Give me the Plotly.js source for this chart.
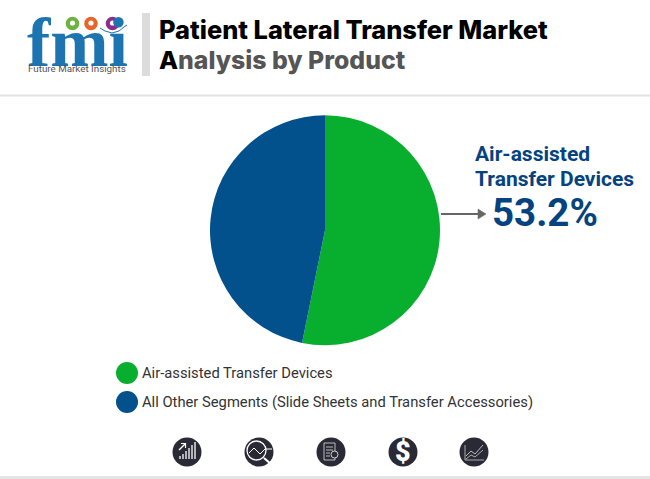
<!DOCTYPE html>
<html><head><meta charset="utf-8">
<script src="https://cdn.plot.ly/plotly-3.0.1.min.js"></script>
<style>html,body{margin:0;padding:0;background:#fff}#c{width:650px;height:479px}</style></head>
<body><div id="c"></div>
<script>
const categories = ["Air-assisted Transfer Devices", "All Other Segments (Slide Sheets and Transfer Accessories)"];
const values = [53.2, 46.8];
const colors = ["#08AE2D", "#02508C"];
const calloutLines = ["Air-assisted", "Transfer Devices"];
const calloutValue = "53.2%";
const titleLine1 = "Patient Lateral Transfer Market";
const titleLine2A = "A", titleLine2B = "nalysis by Product";
const logoText = "Future Market Insights";

const W = 650, H = 479;
const X = x => x / W, Y = y => 1 - y / H;
const DARK = "#2A2A36", NAVY = "#04437F", LOGO = "#1C75B0";

function rect(x0, y0, x1, y1, c) {
  return {type:"rect", xref:"paper", yref:"paper", x0:X(x0), x1:X(x1), y0:Y(y0), y1:Y(y1),
          fillcolor:c, line:{width:0}, layer:"above"};
}
function circ(cx, cy, r, c) {
  return {type:"circle", xref:"paper", yref:"paper", x0:X(cx-r), x1:X(cx+r), y0:Y(cy+r), y1:Y(cy-r),
          fillcolor:c, line:{width:0}, layer:"above"};
}
function seg(x0, y0, x1, y1, c, w) {
  return {type:"line", xref:"paper", yref:"paper", x0:X(x0), x1:X(x1), y0:Y(y0), y1:Y(y1),
          line:{color:c, width:w}, layer:"above"};
}
function path(d, c, w, fill) {
  return {type:"path", xref:"paper", yref:"paper", path:d, line:{color:c, width:w}, fillcolor:fill || "rgba(0,0,0,0)", layer:"above"};
}
function pp(points) {
  return points.map((p, i) => (i ? "L" : "M") + X(p[0]) + "," + Y(p[1])).join(" ");
}
function text(x, y, t, size, color, weight, family, anchor) {
  return {xref:"paper", yref:"paper", x:X(x), y:Y(y), text:t, showarrow:false,
          xanchor:anchor || "left", yanchor:"middle", align:"left",
          font:{size:size, color:color, weight:weight || 400, family:family || "Roboto"}, borderpad:0};
}

const shapes = [
  rect(0, 94.5, W, 96.5, "#E2E2E2"),
  rect(0, 476, W, 479, "#E4E4E4"),
  rect(142, 13, 150, 76, "#DCDCDC"),
  ...[26, 31, 36, 41, 46, 51, 56].map(y => rect(24, y, 130, y + 1.3, "#FFFFFF")),
  circ(72.5, 23.5, 6.8, "#6DB33F"),
  circ(91, 23.5, 6.8, "#E8642A"),
  circ(112.5, 23.5, 6.8, "#8E2C8E"),
  circ(72.5, 23, 2.6, "#FFFFFF"),
  circ(91, 23, 2.6, "#FFFFFF"),
  circ(112.5, 23, 2.6, "#FFFFFF"),
  path(pp([[100,28],[105,31],[112,33],[119,31],[124,27],[127,25]]), LOGO, 1),
  seg(441, 214, 481, 214, "#666666", 2),
  path(pp([[478,209],[486,214],[478,219]]) + " Z", "#666666", 0.5, "#666666"),
  circ(127, 373, 11, colors[0]),
  circ(127, 402, 11, colors[1]),
  circ(187, 452, 14.5, DARK), circ(259, 452, 14.5, DARK), circ(331, 452, 14.5, DARK),
  circ(403, 452, 14.5, DARK), circ(474, 452, 14.5, DARK),
  ...[[180,459,456],[183,459,454],[186,459,451],[189,459,448],[192,459,445],[195,459,442]].map(b => seg(b[0], b[1], b[0], b[2], "#FFFFFF", 1.3)),
  path(pp([[179,450],[185,444]]), "#FFFFFF", 1.5),
  path(pp([[181,443.5],[185.5,443.5],[185.5,448]]), "#FFFFFF", 1.2),
  {type:"circle", xref:"paper", yref:"paper", x0:X(247), x1:X(266), y0:Y(460), y1:Y(441), line:{color:"#FFFFFF", width:1.3}, layer:"above"},
  path(pp([[249,453],[254,448],[260,454],[265,449],[272,449]]), "#FFFFFF", 1),
  seg(264, 458, 272, 465, "#FFFFFF", 2.2),
  path(pp([[324,443],[335,443],[335,460],[324,460]]) + " Z", "#E0E0E0", 0.8),
  seg(326, 447, 333, 447, "#E0E0E0", 0.8), seg(326, 450, 333, 450, "#E0E0E0", 0.8),
  seg(326, 453, 330, 453, "#E0E0E0", 0.8), seg(326, 456, 330, 456, "#E0E0E0", 0.8),
  {type:"circle", xref:"paper", yref:"paper", x0:X(331), x1:X(338), y0:Y(458), y1:Y(451), fillcolor:DARK, line:{color:"#E0E0E0", width:0.9}, layer:"above"},
  path(pp([[465,445],[465,460],[484,460]]), "#CCCCCC", 0.8),
  path(pp([[466,456],[471,451],[475,454],[483,445]]), "#CCCCCC", 0.9),
  path(pp([[466,459],[471,455],[475,457],[483,450]]), "#CCCCCC", 0.8)
];

const annotations = [
  text(26, 43, "fmi", 70, LOGO, 700, "Liberation Serif"),
  text(27, 68.5, logoText, 9.8, "#555555", 400, "Roboto"),
  text(158, 30, titleLine1, 25.4, "#000000", 800, "Inter"),
  text(158, 60, '<span style="color:#000000">' + titleLine2A + '</span><span style="color:#555555">' + titleLine2B + '</span>', 24.8, "#555555", 800, "Inter"),
  text(474, 153.5, calloutLines[0], 21, NAVY, 700),
  text(474, 178.5, calloutLines[1], 21, NAVY, 700),
  text(491, 212, calloutValue, 38.5, NAVY, 700),
  text(141, 373, categories[0], 14.75, "#333333", 400),
  text(141, 402, categories[1], 14.75, "#333333", 400),
  text(403, 452, "$", 27, "#FFFFFF", 900, "Roboto", "center")
];

Plotly.newPlot("c", [{
  type:"pie", labels:categories, values:values, sort:false, direction:"clockwise", rotation:0,
  marker:{colors:colors, line:{width:0}}, textinfo:"none", hoverinfo:"label+percent",
  domain:{x:[X(210), X(440)], y:[Y(345.5), Y(115)]}
}], {
  width:W, height:H, margin:{l:0, r:0, t:0, b:0}, paper_bgcolor:"#FFFFFF", plot_bgcolor:"#FFFFFF",
  showlegend:false, shapes:shapes, annotations:annotations, font:{family:"Roboto"}
}, {displayModeBar:false, staticPlot:true});
</script></body></html>
